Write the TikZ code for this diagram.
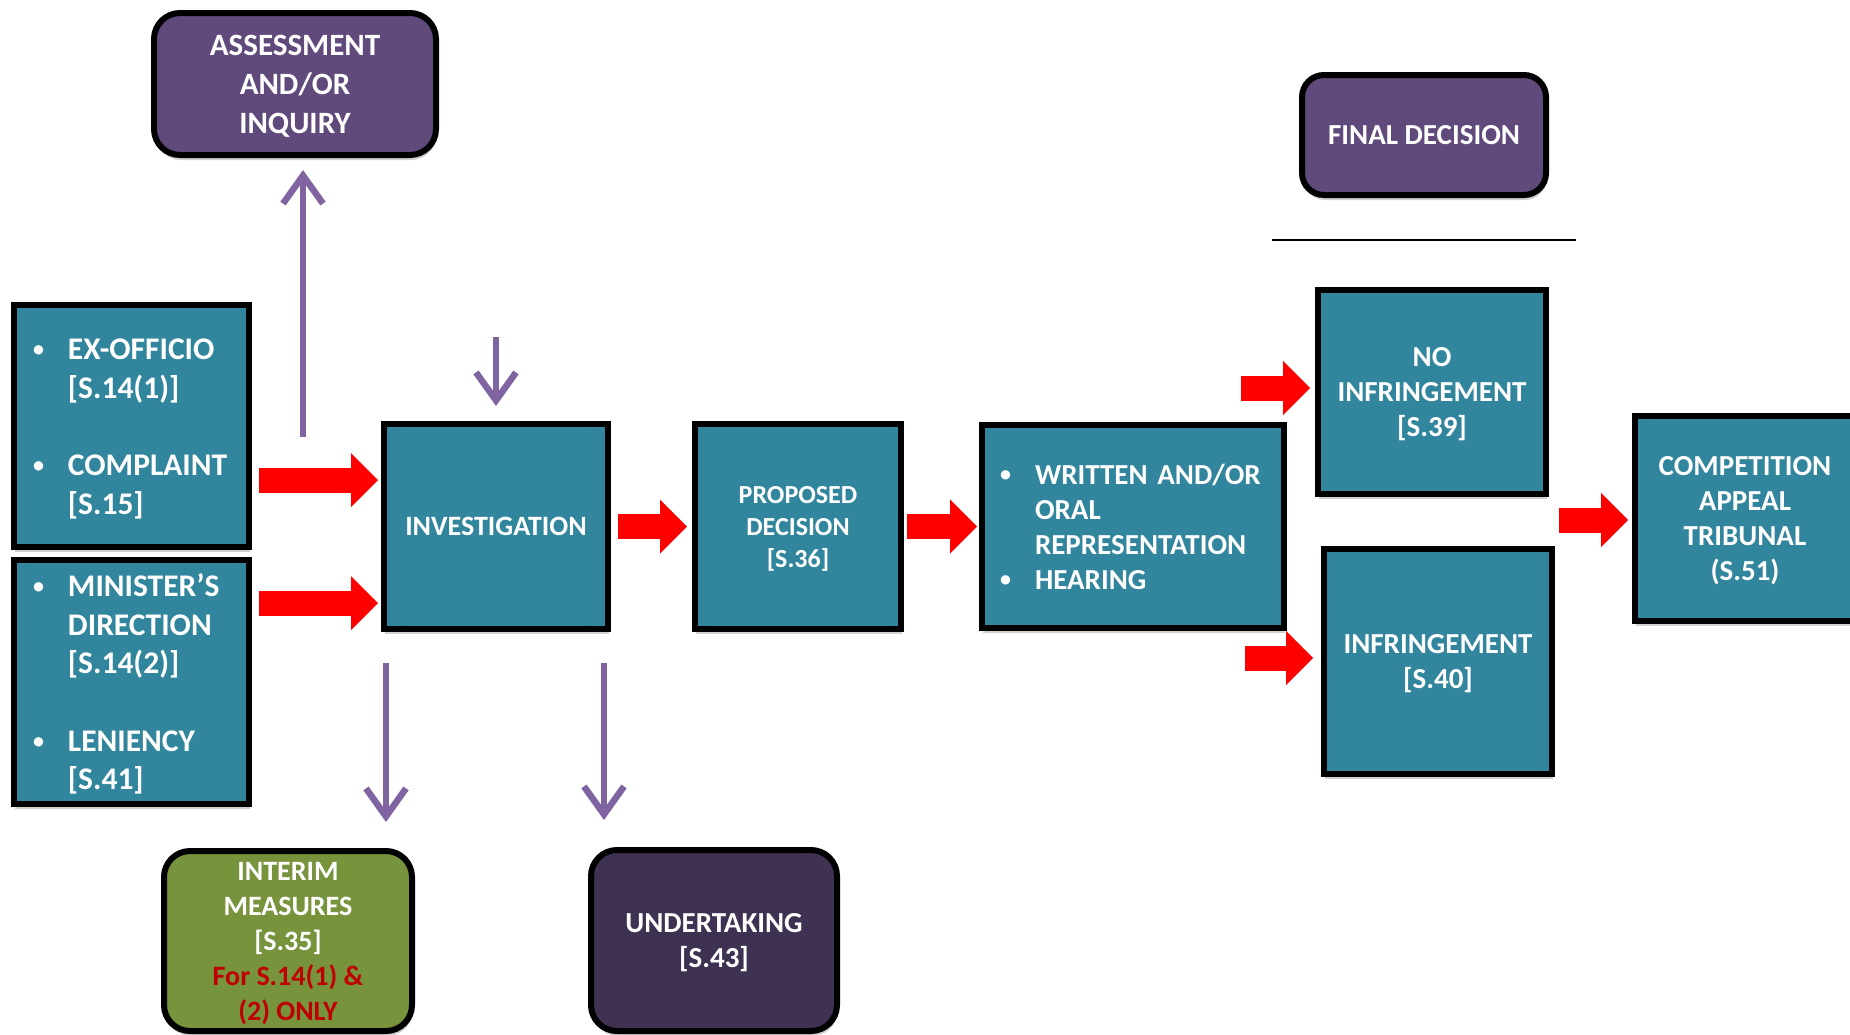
\documentclass[tikz,border=0pt]{standalone}
\usepackage{fontspec}
\setmainfont{Carlito}
\usetikzlibrary{arrows.meta, positioning, shadows}
\usepackage{xcolor}

\definecolor{tealfill}{HTML}{31859C}
\definecolor{assesspurple}{HTML}{604A7B}
\definecolor{darkpurple}{HTML}{3F3151}
\definecolor{olivegreen}{HTML}{77933C}
\definecolor{arrowpurple}{HTML}{8064A2}
\definecolor{notered}{HTML}{C00000}

\newcommand{\fsz}[2]{\fontsize{#1}{#2}\selectfont\bfseries}
\newcommand{\bitem}{\makebox[35pt][l]{\raisebox{3pt}{\fontsize{22}{22}\selectfont\textbullet}}}
\newcommand{\indt}{\hspace*{35pt}}

\begin{document}
\begin{tikzpicture}[x=1pt, y=-1pt,
    box/.style={rectangle, draw=black, line width=6pt, text=white, align=center,
        drop shadow={shadow xshift=1pt, shadow yshift=-5pt, opacity=0.18, fill=black}},
    tealbox/.style={box, fill=tealfill, text depth=0pt},
    listbox/.style={box, fill=tealfill, align=left},
    roundbox/.style={box, rounded corners=26pt, text depth=0pt},
    redarrow/.style={draw=red, line width=25pt, -{Triangle[length=27pt, width=54pt, line width=0pt]}},
    purplearrow/.style={draw=arrowpurple, line width=6.5pt, -{Straight Barb[length=28pt, width=40pt]}}
]
\useasboundingbox (0,0) rectangle (1850,1034);

% start of the case
\node[roundbox, fill=assesspurple, minimum width=282pt, minimum height=142pt, font=\fsz{31}{39}] (assess) at (295,84) {ASSESSMENT\\AND/OR\\INQUIRY};
\node[listbox, text width=197pt, minimum width=235pt, minimum height=242pt, font=\fsz{31.5}{38.5}] (complaint) at (131.5,426)
    {\rule{0pt}{27pt}\bitem EX-OFFICIO\\ \indt[S.14(1)]\\[39pt] \bitem COMPLAINT\\ \indt[S.15]};
\node[listbox, text width=197pt, minimum width=235pt, minimum height=244pt, font=\fsz{31.5}{38.5}, below=7pt of complaint] (minister)
    {\rule{0pt}{27pt}\bitem MINISTER’S\\ \indt DIRECTION\\ \indt[S.14(2)]\\[39pt] \bitem LENIENCY\\ \indt[S.41]};

% main line
\node[tealbox, minimum width=224pt, minimum height=205pt, font=\fsz{28}{34}] (invest) at (496,526.5) {INVESTIGATION};
\node[tealbox, minimum width=206pt, minimum height=205pt, font=\fsz{26}{32}, right=81pt of invest] (proposed) {PROPOSED\\DECISION\\{}[S.36]};
\node[listbox, text width=266pt, minimum width=302pt, minimum height=203pt, font=\fsz{29}{35}, right=75pt of proposed] (written)
    {\bitem WRITTEN AND/OR\\ \indt ORAL\\ \indt REPRESENTATION\\ \bitem HEARING};

% final decision
\node[roundbox, fill=assesspurple, minimum width=244pt, minimum height=120pt, rounded corners=22pt, font=\fsz{29}{35}] (final) at (1424,135) {FINAL DECISION};
\draw[line width=2pt] (1272,240) -- (1576,240);
\node[tealbox, minimum width=228pt, minimum height=204pt, font=\fsz{29}{35}] (noinfr) at (1432,392) {NO\\INFRINGEMENT\\{}[S.39]};
\node[tealbox, minimum width=228pt, minimum height=225pt, font=\fsz{29}{35}] (infr) at (1438,661.5) {INFRINGEMENT\\{}[S.40]};
\node[tealbox, minimum width=220pt, minimum height=205pt, font=\fsz{29}{35}] (tribunal) at (1745,518.5) {COMPETITION\\APPEAL\\TRIBUNAL\\(S.51)};

% side outcomes
\node[roundbox, fill=olivegreen, minimum width=248pt, minimum height=180pt, font=\fsz{28}{35}] (interim) at (288,941)
    {INTERIM\\MEASURES\\{}[S.35]\\\textcolor{notered}{For S.14(1) \&}\\\textcolor{notered}{(2) ONLY}};
\node[roundbox, fill=darkpurple, minimum width=246pt, minimum height=181pt, font=\fsz{29}{35}] (undertake) at (714,940.5) {UNDERTAKING\\{}[S.43]};

% red arrows
\draw[redarrow, shorten <=7pt, shorten >=3pt] (complaint.east |- 0,480) -- (invest.west |- 0,480);
\draw[redarrow, shorten <=7pt, shorten >=3pt] (minister.east |- 0,603) -- (invest.west |- 0,603);
\draw[redarrow, shorten <=7pt, shorten >=5pt] (invest.east) -- (proposed.west);
\draw[redarrow, shorten <=3pt, shorten >=2pt] (proposed.east) -- (written.west);
\coordinate (noStart) at (1241,388);
\coordinate (yesStart) at (1245,658);
\coordinate (appealStart) at (1559,520);
\draw[redarrow, shorten >=5pt] (noStart) -- (noStart -| noinfr.west);
\draw[redarrow, shorten >=8pt] (yesStart) -- (yesStart -| infr.west);
\draw[redarrow, shorten >=4pt] (appealStart) -- (appealStart -| tribunal.west);

% purple arrows
\coordinate (upStart) at (303,437);
\coordinate (inStart) at (496,337);
\coordinate (imStart) at (386,663);
\coordinate (utStart) at (604,663);
\draw[purplearrow, shorten >=12pt] (upStart) -- (upStart |- assess.south);
\draw[purplearrow, shorten >=15pt] (inStart) -- (inStart |- invest.north);
\draw[purplearrow, shorten >=26pt] (imStart) -- (imStart |- interim.north);
\draw[purplearrow, shorten >=27pt] (utStart) -- (utStart |- undertake.north);
\end{tikzpicture}
\end{document}
